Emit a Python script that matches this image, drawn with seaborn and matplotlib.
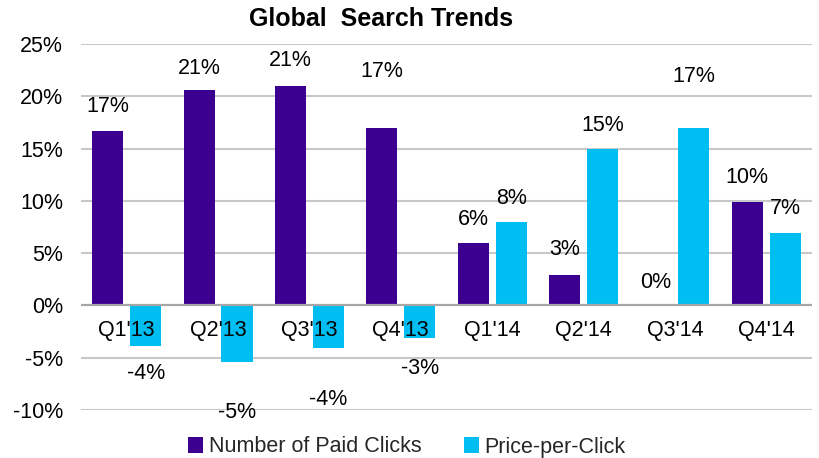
import matplotlib
matplotlib.use("Agg")
import matplotlib.pyplot as plt
import seaborn as sns
import pandas as pd
from matplotlib.patches import Patch

categories = ["Q1'13", "Q2'13", "Q3'13", "Q4'13", "Q1'14", "Q2'14", "Q3'14", "Q4'14"]
paid_clicks = [16.7, 20.6, 21.0, 17.0, 6.0, 2.9, 0.0, 9.9]
price_per_click = [-3.9, -5.4, -4.1, -3.1, 8.0, 15.0, 17.0, 6.9]
series_names = ["Number of Paid Clicks", "Price-per-Click"]
y_ticks = [-10, -5, 0, 5, 10, 15, 20, 25]
y_tick_labels = ["-10%", "-5%", "0%", "5%", "10%", "15%", "20%", "25%"]
title = "Global  Search Trends"

# label offsets (pixels from bar end) – styling, as placed in the original
paid_offsets = [24, 22, 25, 56, 23, 26, 23, 24]
price_offsets = [27, 51, 51, 31, 23, 23, 51, 25]

colors = ["#3C0091", "#00BEF2"]
FS = 15.5

df = pd.DataFrame({
    "Quarter": categories * 2,
    "Value": paid_clicks + price_per_click,
    "Series": [series_names[0]] * len(categories) + [series_names[1]] * len(categories),
})

sns.set_theme(style="white")
plt.rcParams["font.family"] = ["Liberation Sans", "DejaVu Sans"]

fig = plt.figure(figsize=(8.2, 4.58), dpi=100)
ax = fig.add_axes([81 / 820, 1 - 410 / 458, (812 - 81) / 820, (410 - 44) / 458])

sns.barplot(data=df, x="Quarter", y="Value", hue="Series", order=categories,
            hue_order=series_names, palette=colors, width=0.83, gap=0.18,
            saturation=1, ax=ax, legend=False, zorder=2, linewidth=0,
            edgecolor="none")

ax.set_ylim(-10, 25)
ax.set_xlim(-0.5, len(categories) - 0.5)
ax.set_yticks(y_ticks)
ax.set_yticklabels(y_tick_labels, fontsize=FS, color="black")
ax.tick_params(axis="y", length=0, pad=13)
ax.set_xticks([])
ax.set_xlabel("")
ax.set_ylabel("")
for s in ax.spines.values():
    s.set_visible(False)
for t in y_ticks:
    if t != 0:
        ax.axhline(t, color="#c8c8c8", lw=1.5, zorder=0)
ax.axhline(0, color="#a6a6a6", lw=1.6, zorder=3)

# category labels at the zero line
for i, c in enumerate(categories):
    ax.annotate(c, xy=(i, 0), xytext=(0, -25), textcoords="offset pixels",
                ha="center", va="center", fontsize=FS, color="black", zorder=5)

# data labels
for cont, vals, offs in zip(ax.containers, [paid_clicks, price_per_click],
                            [paid_offsets, price_offsets]):
    for bar, v, o in zip(cont.patches, vals, offs):
        x = bar.get_x() + bar.get_width() / 2
        sign = 1 if v >= 0 else -1
        ax.annotate(f"{round(v):d}%", xy=(x, v), xytext=(0, sign * o),
                    textcoords="offset pixels", ha="center", va="center",
                    fontsize=FS, color="black", zorder=5, annotation_clip=False)

fig.text(381 / 820, 1 - 19 / 458, title, ha="center", va="center",
         fontsize=18, fontweight="bold", color="black")

handles = [Patch(facecolor=colors[0], edgecolor="none"),
           Patch(facecolor=colors[1], edgecolor="none")]
fig.legend(handles, series_names, loc="center", bbox_to_anchor=(407 / 820, 1 - 447 / 458),
           ncol=2, frameon=False, fontsize=FS, handlelength=0.7, handleheight=0.7,
           handletextpad=0.25, columnspacing=2.0, borderaxespad=0, borderpad=0)

fig.savefig("out.png", dpi=100)
